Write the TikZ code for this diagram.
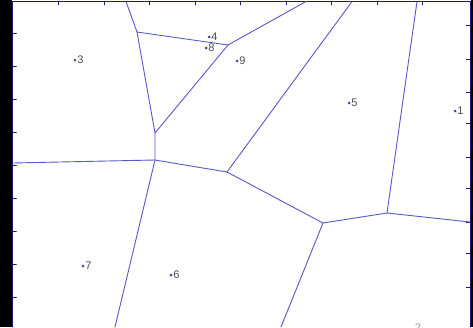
\documentclass[tikz,border=0pt]{standalone}
\usepackage{fontspec}
\setmainfont{Liberation Sans}
\usetikzlibrary{positioning}

\definecolor{cellblue}{RGB}{88,88,200}
\definecolor{axisnavy}{RGB}{25,25,110}

\begin{document}
\begin{tikzpicture}[x=1pt,y=-1pt,line cap=round,line join=round,
  edge/.style={draw=cellblue,line width=.9pt},
  axis/.style={draw=axisnavy,line width=.9pt},
  site/.style={circle,fill=cellblue!80!black,inner sep=0pt,minimum size=3pt},
  tag/.style={font=\fontsize{11}{12}\selectfont,text=black!70,inner sep=.5pt}]
\useasboundingbox (0,0) rectangle (473,327);
% Frame and ticks.
\fill[white] (0,0) rectangle (473,327);
\fill[black] (0,0) rectangle (12,327);
\fill[black] (471,0) rectangle (473,327);
\draw[axis] (12.5,327)--(12.5,1.5)--(470,1.5)--(470,327);
\foreach \x in {58.5,104,149.5,195,240.5,286,331.5,377,422.5}
  \draw[axis,line width=.5pt] (\x,1.5)--(\x,5);
\foreach \y in {33,66,99,132,165,198,231,264,297}
  \draw[axis,line width=.5pt] (12.5,\y)--(16.5,\y);
\foreach \y in {25,59,92,123,157,188,222,253,287}
  \draw[axis,line width=.5pt] (470,\y)--(466,\y);

% Voronoi vertices.
\coordinate (v1) at (137,32);
\coordinate (v2) at (228,45);
\coordinate (v3) at (155,133);
\coordinate (v4) at (155,160);
\coordinate (v5) at (227,172);
\coordinate (v6) at (323,223);
\coordinate (v7) at (387,213);
\coordinate (t1) at (126,1.5);
\coordinate (t2) at (306,1.5);
\coordinate (t3) at (352,1.5);
\coordinate (t4) at (417,1.5);
\coordinate (w1) at (12.5,163);
\coordinate (e1) at (470,222);
\coordinate (b1) at (115,327);
\coordinate (b2) at (281,327);

% Cell edges.
\draw[edge] (t1)--(v1)--(v2)--(t2);
\draw[edge] (v1)--(v3)--(v2);
\draw[edge] (v3)--(v4)--(w1);
\draw[edge] (v4)--(b1);
\draw[edge] (v4)--(v5)--(t3);
\draw[edge] (v5)--(v6)--(b2);
\draw[edge] (v6)--(v7)--(t4);
\draw[edge] (v7)--(e1);

% Sites.
\node[site] (s1) at (455,111) {};
\node[site] (s3) at (75,60) {};
\node[site] (s4) at (209,37) {};
\node[site] (s5) at (349,103) {};
\node[site] (s6) at (171,275) {};
\node[site] (s7) at (83,266) {};
\node[site] (s8) at (206,48) {};
\node[site] (s9) at (237,61) {};
\node[tag,right=0pt of s1] (l1) {1};
\node[tag,right=0pt of s3] (l3) {3};
\node[tag,right=0pt of s4] (l4) {4};
\node[tag,right=0pt of s5] (l5) {5};
\node[tag,right=0pt of s6] (l6) {6};
\node[tag,right=0pt of s7] (l7) {7};
\node[tag,right=0pt of s8] (l8) {8};
\node[tag,right=0pt of s9] (l9) {9};

% Axis label cut off by the lower edge, as in the source.
\begin{scope}
  \clip (0,0) rectangle (473,327);
  \node[tag,text=black!40] (l2) at (418,328) {2};
\end{scope}
\end{tikzpicture}
\end{document}
